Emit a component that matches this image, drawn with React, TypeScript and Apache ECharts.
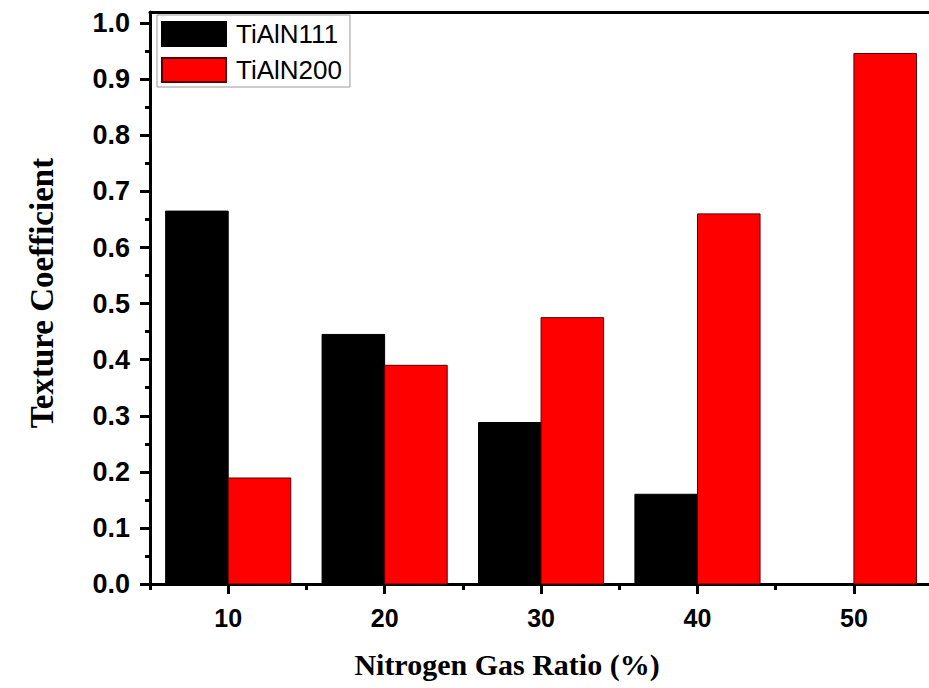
import React, { useEffect, useRef } from "react";
import * as echarts from "echarts";

const seriesNames = ["TiAlN111", "TiAlN200"];
const ratios = [10, 20, 30, 40, 50];
const tialn111 = [0.665, 0.445, 0.288, 0.16, 0];
const tialn200 = [0.189, 0.39, 0.475, 0.66, 0.946];
const xMajorTicks = [10, 20, 30, 40, 50];
const xMinorTicks = [5, 15, 25, 35, 45];
const yMajorTicks = [0, 0.1, 0.2, 0.3, 0.4, 0.5, 0.6, 0.7, 0.8, 0.9, 1.0];
const yMinorTicks = [0.05, 0.15, 0.25, 0.35, 0.45, 0.55, 0.65, 0.75, 0.85, 0.95];

const BAR_SPAN = 4; // bar width in x units

export default function App() {
  const ref = useRef<HTMLDivElement>(null);
  useEffect(() => {
    if (!ref.current) return;
    const chart = echarts.init(ref.current, null, { renderer: "svg" });
    const makeRender = (side: number) => (params: any, api: any) => {
      const x = api.value(0);
      const y = api.value(1);
      const x0 = side < 0 ? x - BAR_SPAN : x;
      const x1 = side < 0 ? x : x + BAR_SPAN;
      const p0 = api.coord([x0, y]);
      const p1 = api.coord([x1, 0]);
      return {
        type: "rect",
        shape: { x: p0[0], y: p0[1], width: p1[0] - p0[0], height: p1[1] - p0[1] },
        style: api.style(),
      };
    };
    const xRange = { min: 5, max: 54.8 };
    const yRange = { min: 0, max: 1.02 };
    chart.setOption({
      animation: false,
      grid: { left: 150, right: 0, top: 12, bottom: 104 },
      legend: {
        show: true,
        orient: "vertical",
        left: 157,
        top: 15,
        data: seriesNames,
        icon: "rect",
        itemWidth: 64,
        itemHeight: 24,
        itemGap: 10,
        padding: [6, 8, 4, 4],
        borderColor: "#999",
        borderWidth: 1,
        backgroundColor: "#fff",
        textStyle: {
          fontFamily: "Liberation Sans, Arial, sans-serif",
          fontSize: 26,
          color: "#000",
          padding: [0, 0, 0, 5],
        },
      },
      xAxis: [
        {
          type: "value",
          position: "bottom",
          ...xRange,
          splitLine: { show: false },
          axisLine: { show: true, lineStyle: { color: "#000", width: 3 } },
          axisTick: { show: true, length: 10, lineStyle: { color: "#000", width: 3 }, customValues: xMajorTicks },
          axisLabel: {
            show: true,
            customValues: xMajorTicks,
            margin: 21,
            fontFamily: "Liberation Sans, Arial, sans-serif",
            fontWeight: "bold",
            fontSize: 25,
            color: "#000",
          },
        },
        {
          type: "value",
          position: "bottom",
          offset: 0,
          ...xRange,
          splitLine: { show: false },
          axisLine: { show: false },
          axisTick: { show: true, length: 6, lineStyle: { color: "#000", width: 3 }, customValues: xMinorTicks },
          axisLabel: { show: false },
        },
        {
          type: "value",
          position: "top",
          ...xRange,
          splitLine: { show: false },
          axisLine: { show: true, lineStyle: { color: "#000", width: 3 } },
          axisTick: { show: false },
          axisLabel: { show: false },
        },
      ],
      yAxis: [
        {
          type: "value",
          position: "left",
          ...yRange,
          splitLine: { show: false },
          axisLine: { show: true, lineStyle: { color: "#000", width: 3 } },
          axisTick: { show: true, length: 10, lineStyle: { color: "#000", width: 3 }, customValues: yMajorTicks },
          axisLabel: {
            show: true,
            customValues: yMajorTicks,
            margin: 20,
            formatter: (v: number) => v.toFixed(1),
            fontFamily: "Liberation Sans, Arial, sans-serif",
            fontWeight: "bold",
            fontSize: 27,
            color: "#000",
          },
        },
        {
          type: "value",
          position: "left",
          offset: 0,
          ...yRange,
          splitLine: { show: false },
          axisLine: { show: false },
          axisTick: { show: true, length: 5, lineStyle: { color: "#000", width: 3 }, customValues: yMinorTicks },
          axisLabel: { show: false },
        },
      ],
      graphic: [
        {
          type: "text",
          x: 42,
          y: 293,
          rotation: Math.PI / 2,
          style: {
            text: "Texture Coefficient",
            font: "bold 33px 'Liberation Serif', 'Times New Roman', serif",
            fill: "#000",
            textAlign: "center",
            textVerticalAlign: "middle",
          },
        },
        {
          type: "text",
          x: 507,
          y: 664,
          style: {
            text: "Nitrogen Gas Ratio (%)",
            font: "bold 30px 'Liberation Serif', 'Times New Roman', serif",
            fill: "#000",
            textAlign: "center",
            textVerticalAlign: "middle",
          },
        },
      ],
      series: [
        {
          name: seriesNames[0],
          type: "custom",
          xAxisIndex: 0,
          yAxisIndex: 0,
          renderItem: makeRender(-1),
          itemStyle: { color: "#000", borderColor: "#000", borderWidth: 1 },
          data: ratios.map((r, i) => [r, tialn111[i]]),
          z: 1,
        },
        {
          name: seriesNames[1],
          type: "custom",
          xAxisIndex: 0,
          yAxisIndex: 0,
          renderItem: makeRender(1),
          itemStyle: { color: "#ff0000", borderColor: "#5a0000", borderWidth: 1 },
          data: ratios.map((r, i) => [r, tialn200[i]]),
          z: 1,
        },
      ],
    });
    return () => chart.dispose();
  }, []);
  return (
    <div
      ref={ref}
      style={{ position: "absolute", left: 0, top: 0, width: 929, height: 688, background: "#fff" }}
    />
  );
}
